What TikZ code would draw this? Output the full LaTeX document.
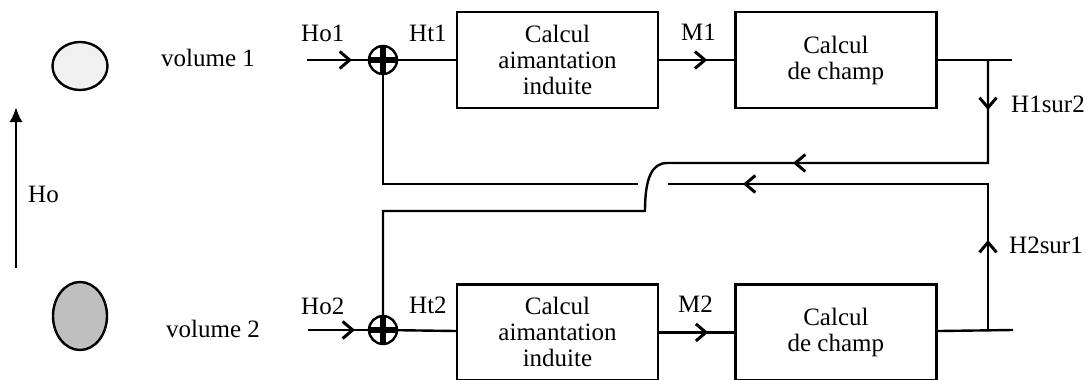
\documentclass[tikz,border=0pt]{standalone}
\usepackage{fontspec}
\setmainfont{Liberation Serif}
\usetikzlibrary{positioning, arrows.meta, shapes.geometric, decorations.markings}

\tikzset{barb/.tip={Straight Barb[length=10pt,width=17pt,line width=3pt]}}

\begin{document}
\begin{tikzpicture}[
      x=1pt, y=-1pt,
      font=\fontsize{25}{26}\selectfont,
      line width=2.4pt,
      block/.style={
        draw,
        rectangle,
        align=center,
        minimum width=201pt,
        minimum height=96pt,
        inner sep=0pt
      },
      sum/.style={
        draw, circle, minimum size=28pt, inner sep=0pt,
        path picture={
          \draw[line width=6pt] (path picture bounding box.north) -- (path picture bounding box.south)
                                (path picture bounding box.west) -- (path picture bounding box.east);
        }
      },
      vol/.style={draw, ellipse, inner sep=0pt},
      sig/.style={anchor=base west, inner sep=0pt},
      flow/.style={postaction={decorate},
        decoration={markings, mark=at position #1 with {\arrow{barb}}}}
    ]
    \useasboundingbox (0,0) rectangle (1087,380);

    % Volumes and applied field
    \node [vol, minimum width=55pt, minimum height=48pt, fill=gray!12] (vol1) at (80,66) {};
    \node [sig] (vol1txt) at (160,66) {volume 1};
    \node [vol, minimum width=54pt, minimum height=68pt, fill=gray!50] (vol2) at (80,316) {};
    \node [sig] (vol2txt) at (165,337) {volume 2};
    \coordinate (hoBot) at (16,268);
    \coordinate (hoTop) at (16,107);
    \node [sig] (hotxt) at (27,202) {Ho};
    \draw [-{Latex[length=15pt,width=13pt]}] (hoBot) -- (hoTop);

    % Place nodes, volume 1
    \coordinate (ho1) at (307,60);
    \node [sum] (sum1) at (383,60) {};
    \node [block] (calc1) at (557.5,60) {Calcul\\aimantation\\induite};
    \node [block, right=75pt of calc1] (champ1) {Calcul\\de champ};
    \coordinate (tap1) at (988,60);
    \coordinate (out1) at (1012,60);

    % Place nodes, volume 2
    \coordinate (ho2) at (308,330);
    \node [sum] (sum2) at (383,330) {};
    \node [block, below=174pt of calc1] (calc2) {Calcul\\aimantation\\induite};
    \node [block, below=174pt of champ1] (champ2) {Calcul\\de champ};
    \coordinate (tap2) at (988,330);
    \coordinate (out2) at (1013,330);

    % Signal names
    \node [sig] (ho1txt) at (300,41) {Ho1};
    \node [sig] (ht1txt) at (408,41) {Ht1};
    \node [sig] (m1txt) at (680,40) {M1};
    \node [sig] (h12txt) at (1010,112) {H1sur2};
    \node [sig] (ho2txt) at (300,314) {Ho2};
    \node [sig] (ht2txt) at (408,313) {Ht2};
    \node [sig] (m2txt) at (677,312) {M2};
    \node [sig] (h21txt) at (1008,253) {H2sur1};

    % Direct paths
    \draw [flow=45pt] (ho1) -- (sum1);
    \draw (sum1) -- (calc1);
    \draw [flow=48pt] (calc1) -- (champ1);
    \draw (champ1) -- (out1);
    \draw [flow=47pt] (ho2) -- (sum2);
    \draw (sum2) -- (calc2);
    \draw [flow=49pt] (calc2) -- (champ2);
    \draw (champ2) -- (out2);

    % Coupling 1 -> 2
    \coordinate (c1a) at (988,163);
    \coordinate (c1b) at (667,163);
    \coordinate (c1c) at (645,211);
    \coordinate (c1d) at (383,211);
    \draw [postaction={decorate},
      decoration={markings,
        mark=at position 50pt with {\arrow{barb}},
        mark=at position 298pt with {\arrow{barb}}}]
      (tap1) -- (c1a) -- (c1b) .. controls (652,163) and (645,178) .. (c1c) -- (c1d) -- (sum2);

    % Coupling 2 -> 1, passing under
    \coordinate (c2a) at (988,184);
    \coordinate (c2b) at (668,184);
    \coordinate (c2c) at (638,184);
    \coordinate (c2d) at (383,184);
    \draw [postaction={decorate},
      decoration={markings,
        mark=at position 90pt with {\arrow{barb}},
        mark=at position 391pt with {\arrow{barb}}}]
      (tap2) -- (c2a) -- (c2b);
    \draw (c2c) -- (c2d) -- (sum1);
  \end{tikzpicture}
\end{document}
